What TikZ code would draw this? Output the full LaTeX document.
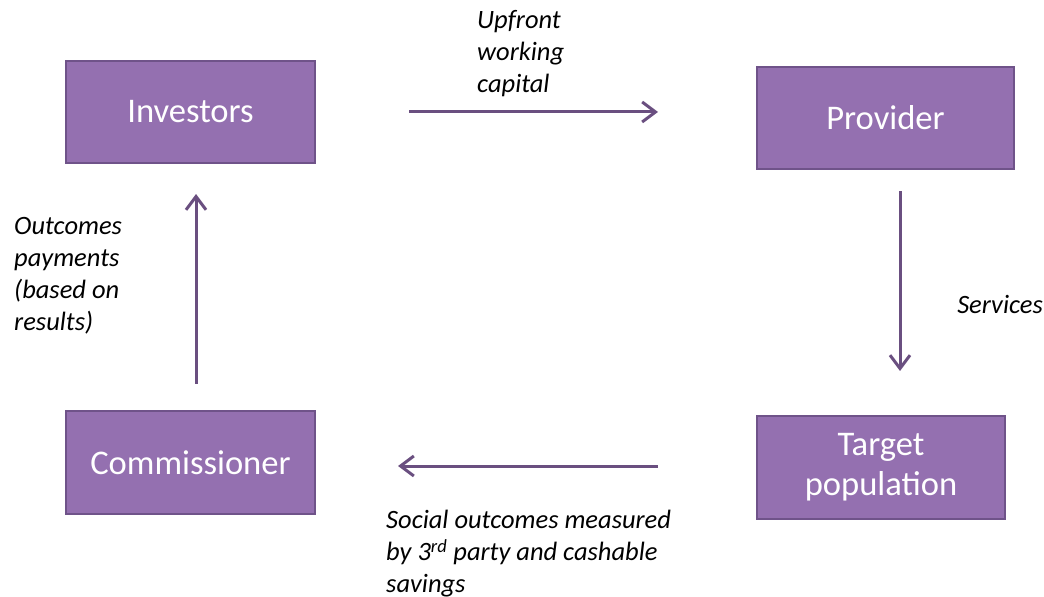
\documentclass[tikz,border=0pt]{standalone}
\usepackage{fontspec}
\setmainfont{Carlito}
\usetikzlibrary{arrows.meta,calc}
\definecolor{boxfill}{RGB}{148,112,176}
\definecolor{boxline}{RGB}{111,83,137}
\definecolor{flow}{RGB}{106,79,128}
\begin{document}
\begin{tikzpicture}[x=0.03cm,y=-0.03cm,
  party/.style={draw=boxline,line width=0.06cm,fill=boxfill,text=white,align=center,
    font=\fontsize{29.5}{34}\selectfont},
  flowarrow/.style={draw=flow,line width=0.09cm,-{Straight Barb[length=0.4cm,width=0.6cm,line width=0.09cm]}},
  note/.style={anchor=west,align=left,inner sep=0pt,font=\fontsize{22.6}{27.3}\selectfont\itshape}]
\useasboundingbox (0,0) rectangle (1044,597);
% the four parties
\node[party,minimum width=7.47cm,minimum height=3.06cm] (inv) at (190.5,112) {Investors};
\node[party,minimum width=7.71cm,minimum height=3.06cm] (prov) at (885.5,118) {Provider};
\node[party,minimum width=7.47cm,minimum height=3.09cm] (com) at (190.5,462.5) {Commissioner};
\node[party,minimum width=7.44cm,minimum height=3.09cm] (tgt) at (881,467.5) {Target\\population};

% money and services
\coordinate (servstart) at ($(prov.south)+(14.5,0)$);
\coordinate (socstart) at ($(tgt.west)+(0,-1.5)$);
\coordinate (paystart) at ($(com.north)+(5.5,0)$);
\draw[flowarrow,shorten <=2.79cm,shorten >=2.94cm] (inv.east) -- (inv.east -| prov.west);
\draw[flowarrow,shorten <=0.63cm,shorten >=1.32cm] (servstart) -- (servstart |- tgt.north);
\draw[flowarrow,shorten <=2.94cm,shorten >=2.46cm] (socstart) -- (socstart -| com.east);
\draw[flowarrow,shorten <=0.78cm,shorten >=0.9cm] (paystart) -- (paystart |- inv.south);

\node[note] (capital) at (477,54) {Upfront\\working\\capital};
\node[note] (services) at (957,304) {Services};
\node[note] (social) at (386,554) {Social outcomes measured\\by 3\textsuperscript{rd} party and cashable\\savings};
\node[note] (payments) at (14,276) {Outcomes\\payments\\(based on\\results)};
\end{tikzpicture}
\end{document}
